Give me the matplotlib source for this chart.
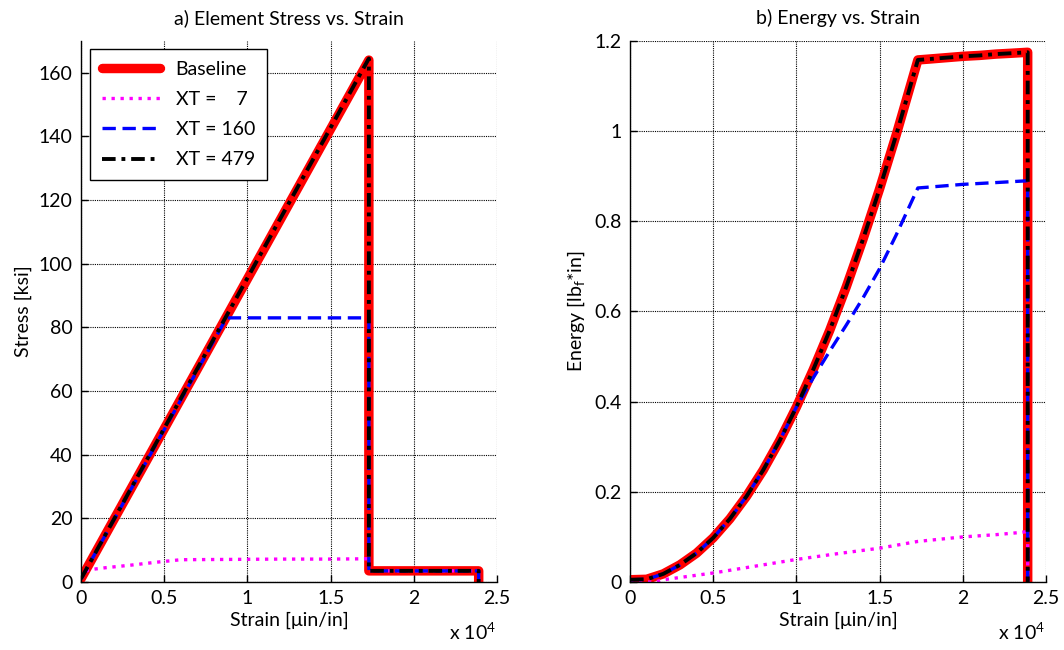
import matplotlib
matplotlib.use("Agg")
import matplotlib.pyplot as plt
from matplotlib.ticker import FuncFormatter, MultipleLocator

plt.rcParams['font.family'] = ['Lato', 'DejaVu Sans']
plt.rcParams['mathtext.fontset'] = 'custom'
plt.rcParams['mathtext.rm'] = 'Lato'
plt.rcParams['mathtext.default'] = 'rm'

FS = 14

# ---- a) element stress vs strain (strain in uin/in, stress in ksi) ----
base_strain = [0, 17300, 17300, 23900, 23900]
base_stress = [1.0, 164.0, 3.5, 3.5, 0.0]

xt7_strain = [0, 400, 1500, 3000, 4500, 6000, 9000, 12000, 15000, 17300, 17300, 23900, 23900]
xt7_stress = [1.0, 3.8, 4.5, 5.3, 6.2, 7.0, 7.1, 7.2, 7.2, 7.3, 3.5, 3.5, 0.0]

xt160_strain = [0, 8750, 17300, 17300, 23900, 23900]
xt160_stress = [1.0, 83.0, 83.0, 3.5, 3.5, 0.0]

xt479_strain = [0, 17300, 17300, 23900, 23900]
xt479_stress = [1.0, 164.5, 3.5, 3.5, 0.0]

# ---- b) energy vs strain (lbf*in) ----
en_strain = [0, 1000, 2000, 3000, 4000, 5000, 6000, 7000, 8000, 9000, 10000,
             11000, 12000, 13000, 14000, 15000, 16000, 17300,
             18000, 19000, 20000, 21000, 22000, 23000, 23900, 23900]
base_energy = [0.005, 0.006, 0.018, 0.038, 0.064, 0.098, 0.14, 0.19, 0.248, 0.314, 0.388,
               0.47, 0.558, 0.655, 0.76, 0.872, 0.992, 1.158,
               1.16, 1.163, 1.166, 1.168, 1.171, 1.173, 1.175, 0.0]
xt479_energy = base_energy

xt160_en_strain = [0, 1000, 2000, 3000, 4000, 5000, 6000, 7000, 8000, 9000, 10000,
                   10500, 11000, 12000, 13000, 14000, 15000, 16000, 17300,
                   18000, 20000, 22000, 23900, 23900]
xt160_energy = [0.005, 0.006, 0.018, 0.038, 0.064, 0.098, 0.14, 0.19, 0.248, 0.314, 0.388,
                0.42, 0.452, 0.512, 0.57, 0.63, 0.695, 0.77, 0.874,
                0.876, 0.882, 0.886, 0.89, 0.0]

xt7_en_strain = [0, 1500, 2000, 3000, 5000, 7500, 10000, 12500, 15000, 17300,
                 20000, 22000, 23500, 23900, 23900]
xt7_energy = [0.0, 0.0, 0.005, 0.01, 0.02, 0.035, 0.05, 0.063, 0.075, 0.09,
              0.1, 0.105, 0.11, 0.112, 0.0]

labels = ['Baseline', 'XT =    7', 'XT = 160', 'XT = 479']

fig = plt.figure(figsize=(10.64, 6.5), dpi=100)
axL = fig.add_axes([81 / 1064, 68 / 650, 416 / 1064, 541 / 650])
axR = fig.add_axes([630 / 1064, 68 / 650, 416 / 1064, 541 / 650])

fmt = FuncFormatter(lambda v, p: '%g' % (v / 1e4))


def style(ax):
    ax.set_xlim(0, 25000)
    ax.xaxis.set_major_locator(MultipleLocator(5000))
    ax.xaxis.set_major_formatter(fmt)
    ax.grid(True, color='black', linestyle=(0, (1, 1)), linewidth=0.8)
    ax.set_axisbelow(True)
    for s in ('top', 'right'):
        ax.spines[s].set_visible(False)
    for s in ('left', 'bottom'):
        ax.spines[s].set_linewidth(1.0)
    ax.tick_params(direction='in', length=5, width=1, labelsize=FS, pad=6)
    ax.set_xlabel('Strain [\u03bcin/in]', fontsize=FS, labelpad=3)


def draw(ax, data):
    (x0, y0), (x1, y1), (x2, y2), (x3, y3) = data
    h0, = ax.plot(x0, y0, color='#ff0000', lw=6.8, solid_joinstyle='round',
                  solid_capstyle='round', label=labels[0])
    h1, = ax.plot(x1, y1, color='#ff00ff', lw=2.4, linestyle=(0, (1, 1.7)), label=labels[1])
    h2, = ax.plot(x2, y2, color='#0000ff', lw=2.4, linestyle=(0, (4, 2)), label=labels[2])
    h3, = ax.plot(x3, y3, color='black', lw=2.8, linestyle=(0, (3.5, 1.5, 1, 1.5)), label=labels[3])
    return [h0, h1, h2, h3]


handles = draw(axL, [(base_strain, base_stress), (xt7_strain, xt7_stress),
                     (xt160_strain, xt160_stress), (xt479_strain, xt479_stress)])
style(axL)
axL.set_ylim(0, 170)
axL.yaxis.set_major_locator(MultipleLocator(20))
axL.set_ylabel('Stress [ksi]', fontsize=FS, labelpad=5)
axL.set_title('a) Element Stress vs. Strain', fontsize=FS, pad=12)
leg = axL.legend(handles=handles, loc='upper left', bbox_to_anchor=(9 / 416, 1 - 8 / 541),
                 borderaxespad=0, fontsize=FS, frameon=True, fancybox=False, framealpha=1,
                 edgecolor='black', handlelength=3.0, borderpad=0.6,
                 labelspacing=0.68, handletextpad=0.8)
leg.get_frame().set_linewidth(1.0)

draw(axR, [(en_strain, base_energy), (xt7_en_strain, xt7_energy),
           (xt160_en_strain, xt160_energy), (en_strain, xt479_energy)])
style(axR)
axR.set_ylim(0, 1.2)
axR.yaxis.set_major_locator(MultipleLocator(0.2))
axR.yaxis.set_major_formatter(FuncFormatter(lambda v, p: '%g' % round(v, 1)))
axR.set_ylabel('Energy [lb$_f$*in]', fontsize=FS, labelpad=5)
axR.set_title('b) Energy vs. Strain', fontsize=FS, pad=12)

fig.text(472 / 1064, 1 - 632 / 650, r'x 10$^4$', fontsize=FS, ha='center', va='center')
fig.text(1021 / 1064, 1 - 632 / 650, r'x 10$^4$', fontsize=FS, ha='center', va='center')

fig.savefig('out.png', dpi=100)
